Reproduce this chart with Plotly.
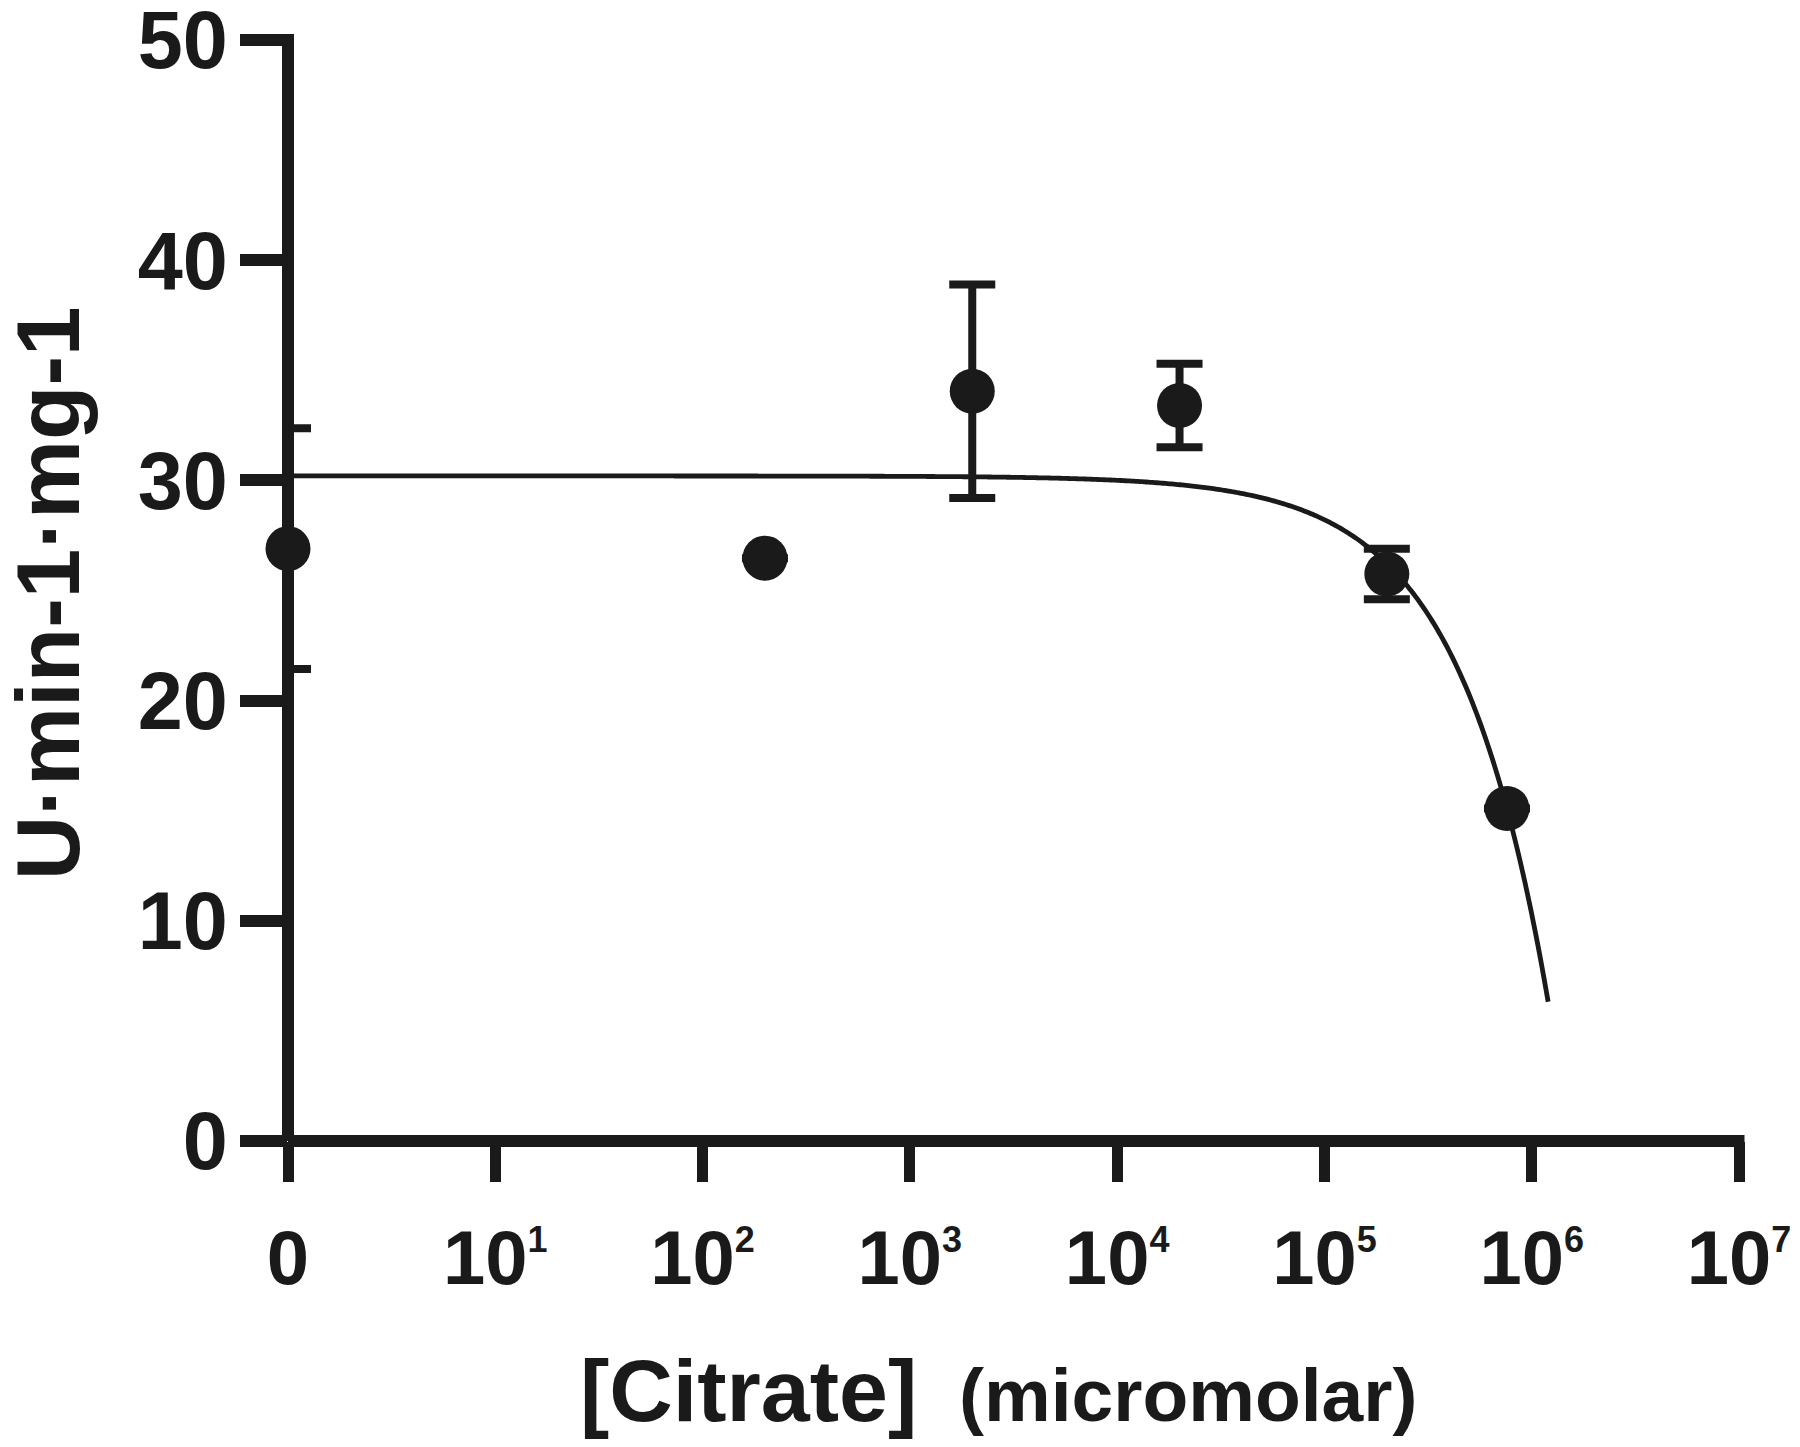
import numpy as np
import plotly.graph_objects as go

# ---------------- data ----------------
citrate_uM = [0, 200, 2000, 20000, 200000, 760000]          # concentration, micromolar
activity = [26.9, 26.47, 34.05, 33.4, 25.75, 15.1]           # U·min-1·mg-1 (mean)
activity_err = [5.47, None, 4.85, 1.9, 1.15, None]           # SD (None = hidden by marker)
fit_x_max = 1.2e6                                            # end of the fitted line

x_tickvals = [1, 10, 100, 1e3, 1e4, 1e5, 1e6, 1e7]
x_tick_exponents = ["", "1", "2", "3", "4", "5", "6", "7"]
y_tickvals = [0, 10, 20, 30, 40, 50]
y_ticktext = ["0", "10", "20", "30", "40", "50"]

y_title = "U·min-1·mg-1"
x_title_main = "[Citrate]"
x_title_unit = "(micromolar)"

# ---------------- styling / layout ----------------
INK = "#1a1a1a"
FONT = "Liberation Sans"
W, H = 1800, 1447
ML, MR, MT, MB = 288, 61, 40, 306
PW, PH = W - ML - MR, H - MT - MB
SUP_SIZE = 36


def px_x(px):
    return (px - ML) / PW


def px_y(py):
    return (H - MB - py) / PH


x_ticktext = ["0" if e == "" else
              "10<sup><span style='font-size:%dpx'>%s</span></sup>" % (SUP_SIZE, e)
              for e in x_tick_exponents]

# straight-line least-squares fit of the means (concentration on a linear scale)
slope, intercept = np.polyfit(np.array(citrate_uM, float), np.array(activity, float), 1)
fit_x = np.geomspace(1, fit_x_max, 600)
fit_y = intercept + slope * fit_x

# "0" concentration is drawn at the axis origin (10^0 on the log axis)
plot_x = [c if c > 0 else 1 for c in citrate_uM]

fig = go.Figure()

fig.add_trace(go.Scatter(
    x=fit_x, y=fit_y, mode="lines",
    line=dict(color=INK, width=4.8, simplify=False),
    hoverinfo="skip", showlegend=False,
))

fig.add_trace(go.Scatter(
    x=plot_x, y=activity, mode="markers",
    marker=dict(color=INK, size=45, line=dict(width=0)),
    error_y=dict(type="data", array=activity_err, visible=True,
                 color=INK, thickness=8, width=23),
    cliponaxis=False, showlegend=False,
))

fig.update_xaxes(
    type="log", range=[0, 7], automargin=False,
    tickmode="array", tickvals=x_tickvals, ticktext=x_ticktext,
    ticks="outside", ticklen=40, tickwidth=11, tickcolor=INK,
    showline=False, showgrid=False, zeroline=False,
    tickfont=dict(family=FONT, size=76, color=INK, weight="bold"),
    ticklabelstandoff=11, ticklabeloverflow="allow",
)
fig.update_yaxes(
    range=[0, 50], automargin=False,
    tickmode="array", tickvals=y_tickvals, ticktext=y_ticktext,
    ticks="outside", ticklen=47, tickwidth=12, tickcolor=INK,
    showline=False, showgrid=False, zeroline=False,
    tickfont=dict(family=FONT, size=81, color=INK, weight="bold"),
    ticklabelstandoff=-4, ticklabeloverflow="allow",
)

# thick axis lines (centred on the data origin, as in the reference)
fig.add_shape(type="line", xref="paper", yref="paper",
              x0=0, x1=0, y0=0, y1=1 + 6 / PH,
              line=dict(color=INK, width=12), layer="below")
fig.add_shape(type="line", xref="paper", yref="paper",
              x0=0, x1=1 + 5.5 / PW, y0=0, y1=0,
              line=dict(color=INK, width=12), layer="below")

# axis titles
fig.add_annotation(text=y_title, xref="paper", yref="paper",
                   x=px_x(48), y=px_y(593), xanchor="center", yanchor="middle",
                   textangle=-90, showarrow=False,
                   font=dict(family=FONT, size=89, color=INK, weight="bold"))
fig.add_annotation(text=x_title_main, xref="paper", yref="paper",
                   x=px_x(748), y=px_y(1390), xanchor="center", yanchor="middle",
                   showarrow=False,
                   font=dict(family=FONT, size=88, color=INK, weight="bold"))
fig.add_annotation(text=x_title_unit, xref="paper", yref="paper",
                   x=px_x(1188), y=px_y(1395), xanchor="center", yanchor="middle",
                   showarrow=False,
                   font=dict(family=FONT, size=75, color=INK, weight="bold"))

fig.update_layout(
    width=W, height=H,
    margin=dict(l=ML, r=MR, t=MT, b=MB, pad=0, autoexpand=False),
    paper_bgcolor="white", plot_bgcolor="white",
    showlegend=False,
    font=dict(family=FONT, color=INK),
)

# place the figure at the page's top-left corner (no default body margin)
fig.write_html("out.html", config={"displayModeBar": False},
               post_script="document.body.style.margin='0';")
